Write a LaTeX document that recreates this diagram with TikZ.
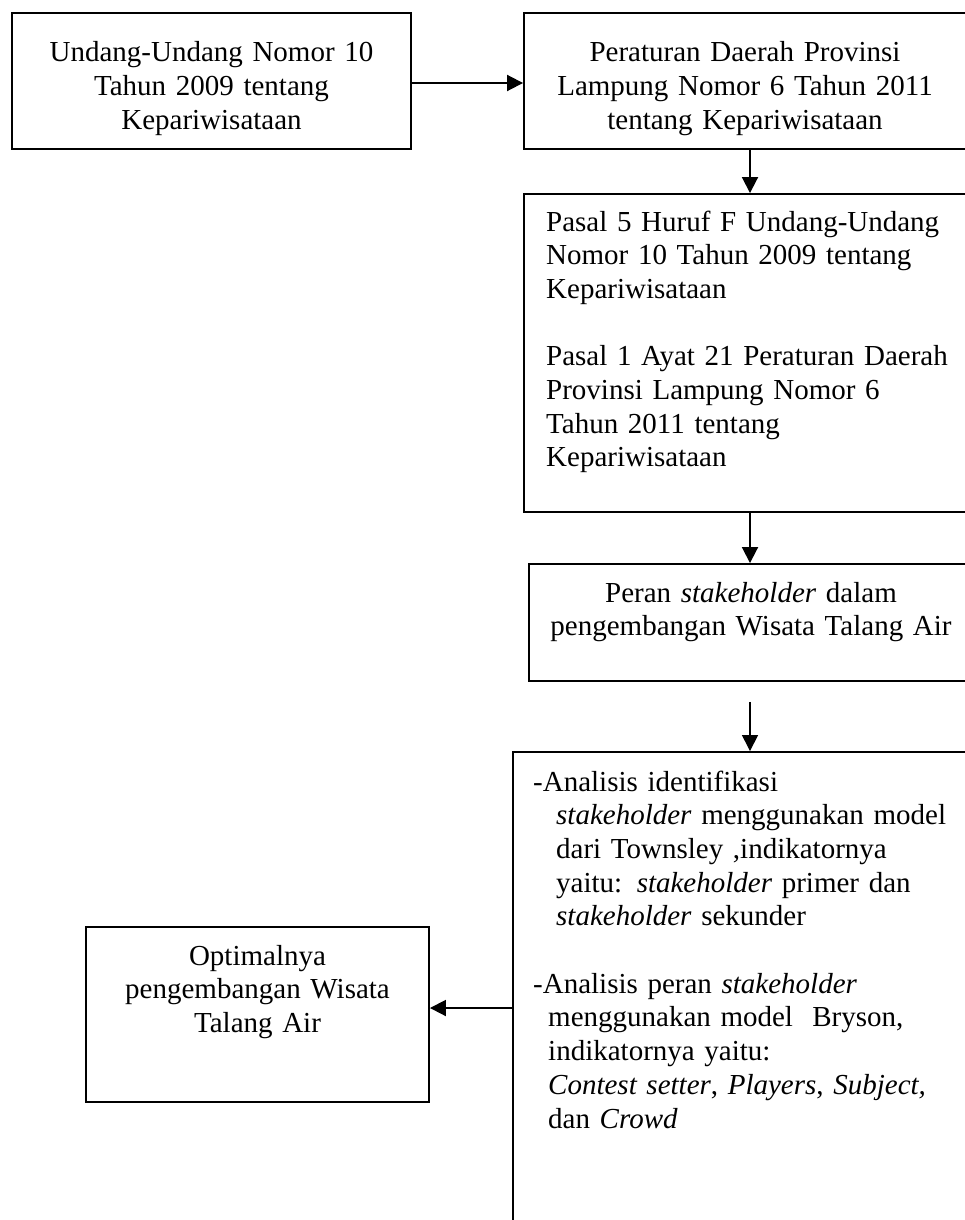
\documentclass[tikz,border=0pt]{standalone}
\usepackage{fontspec}
\setmainfont{Liberation Serif}
\usetikzlibrary{arrows.meta,calc}
\begin{document}
\begin{tikzpicture}[x=1pt,y=-1pt,
  box/.style={draw, line width=1.9pt, rectangle, inner sep=0pt},
  txt/.style={inner sep=0pt, font=\fontsize{29}{33.7}\selectfont},
  conn/.style={line width=1.9pt, -{Triangle[length=16pt,width=16pt]}},
  thinconn/.style={line width=1.4pt, -{Triangle[length=16pt,width=16pt]}}]
\clip (0,0) rectangle (965,1220);
\fill[white] (0,0) rectangle (965,1220);
% boxes
\node[box, minimum width=399, minimum height=136] (b1) at (211.5,81) {};
\node[box, minimum width=443, minimum height=136] (b2) at (745.5,81) {};
\node[box, minimum width=443, minimum height=318] (b3) at (745.5,353) {};
\node[box, minimum width=444, minimum height=117] (b4) at (751,622.5) {};
\node[box, minimum width=477, minimum height=488] (b5) at (751.5,996) {};
\node[box, minimum width=343, minimum height=175] (b6) at (257.5,1014.5) {};
% texts
\node[txt, text width=380, align=center, anchor=base] (t1) at (211.5,62)
  {Undang-Undang Nomor 10\\Tahun 2009 tentang\\Kepariwisataan};
\node[txt, text width=420, align=center, anchor=base] (t2) at (745,62)
  {Peraturan Daerah Provinsi\\Lampung Nomor 6 Tahun 2011\\tentang Kepariwisataan};
\node[txt, text width=420, align=left, anchor=base west] (t3) at (546,231)
  {Pasal 5 Huruf F Undang-Undang\\Nomor 10 Tahun 2009 tentang\\Kepariwisataan\\[33.7pt]Pasal 1 Ayat 21 Peraturan Daerah\\Provinsi Lampung Nomor 6\\Tahun 2011 tentang\\Kepariwisataan};
\node[txt, text width=430, align=center, anchor=base] (t4) at (751,602)
  {Peran \textit{stakeholder} dalam\\pengembangan Wisata Talang Air};
\node[txt, text width=430, align=left, anchor=base west] (t5) at (533,791)
  {-Analisis identifikasi\\\hspace*{23pt}\textit{stakeholder} menggunakan model\\\hspace*{23pt}dari Townsley ,indikatornya\\\hspace*{23pt}yaitu: \textit{stakeholder} primer dan\\\hspace*{23pt}\textit{stakeholder} sekunder\\[33.7pt]-Analisis peran \textit{stakeholder}\\\hspace*{15pt}menggunakan model\ \ Bryson,\\\hspace*{15pt}indikatornya yaitu:\\\hspace*{15pt}\textit{Contest setter}, \textit{Players}, \textit{Subject,}\\\hspace*{15pt}dan \textit{Crowd}};
\node[txt, text width=330, align=center, anchor=base] (t6) at (257.5,965)
  {Optimalnya\\pengembangan Wisata\\Talang Air};
% connectors
\coordinate (ax) at (750,0);
\coordinate (ay) at (0,1008);
\draw[conn] ($(b1.east)+(0,2)$) -- ($(b2.west)+(0,2)$);
\draw[conn] (b2.south -| ax) -- (b3.north -| ax);
\draw[conn] (b3.south -| ax) -- (b4.north -| ax);
\coordinate (s4) at ($(b4.south -| ax)+(0,20)$);
\draw[thinconn] (s4) -- (b5.north -| ax);
\draw[conn] (b5.west |- ay) -- (b6.east |- ay);
\end{tikzpicture}
\end{document}
